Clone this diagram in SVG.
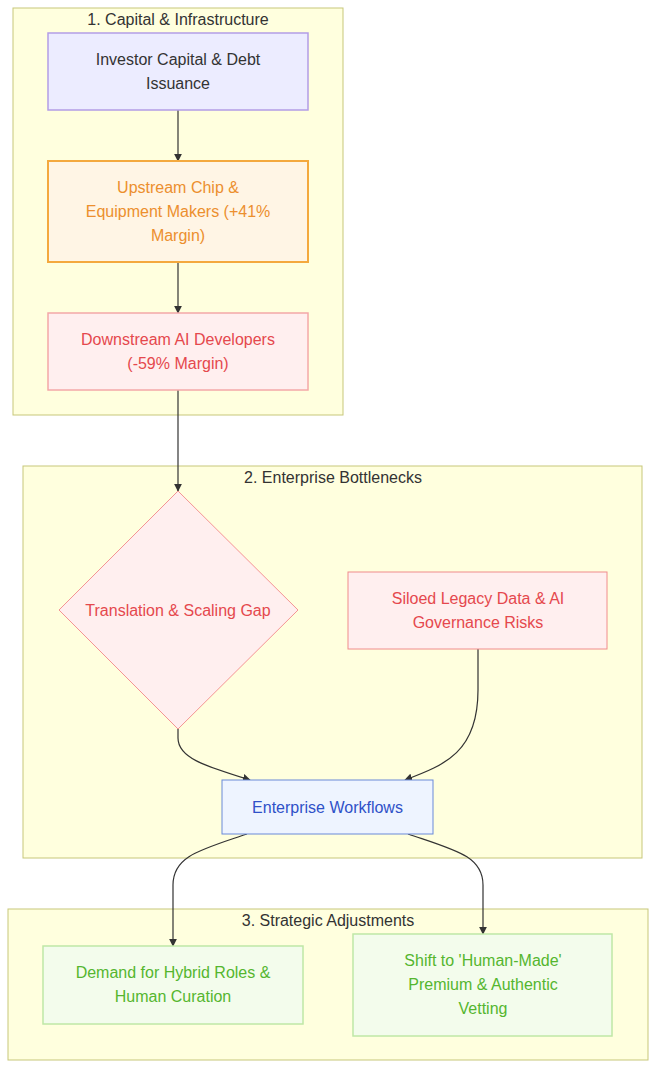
<svg xmlns="http://www.w3.org/2000/svg" width="656" height="1069" viewBox="0 0 656 1069">
<style>
text{font-family:"Liberation Sans",Arial,sans-serif;font-size:16px;text-anchor:middle;dominant-baseline:central}
.cl{fill:#FFFFDE;stroke:#C7C77A;stroke-width:1}
.ct{fill:#333}
.edge{fill:none;stroke:#333;stroke-width:1.2;marker-end:url(#arr)}
</style>
<defs>
<marker id="arr" viewBox="0 0 10 10" refX="9" refY="5" markerWidth="8" markerHeight="8" markerUnits="userSpaceOnUse" orient="auto">
<path d="M0,0 L10,5 L0,10 z" fill="#333"/>
</marker>
</defs>
<rect width="656" height="1069" fill="#fff"/>
<g id="cluster1"><rect class="cl" x="13" y="8" width="330" height="407"/><text class="ct" x="178" y="19">1. Capital &amp; Infrastructure</text></g>
<g id="cluster2"><rect class="cl" x="23" y="466" width="619" height="392"/><text class="ct" x="333" y="477">2. Enterprise Bottlenecks</text></g>
<g id="cluster3"><rect class="cl" x="8" y="909" width="640" height="151"/><text class="ct" x="328" y="920">3. Strategic Adjustments</text></g>
<g id="edges">
<path class="edge" d="M178,110 L178,161"/>
<path class="edge" d="M178,262 L178,313"/>
<path class="edge" d="M178,390 L178,491"/>
<path class="edge" d="M178,729 L178,738 C178,758 205,766 250,780"/>
<path class="edge" d="M478,649 L478,690 C478,752 445,765 405,780"/>
<path class="edge" d="M247,834 C200,850 173,856 173,885 L173,946"/>
<path class="edge" d="M408,834 C455,850 483,856 483,885 L483,934"/>
</g>
<g id="investor"><rect x="48" y="33" width="260" height="77" fill="#ECECFF" stroke="#B39DE6" stroke-width="1.5"/><text fill="#333" x="178" y="59">Investor Capital &amp; Debt</text><text fill="#333" x="178" y="83">Issuance</text></g>
<g id="upstream"><rect x="48" y="161" width="260" height="101" fill="#FFF5E5" stroke="#F4A93E" stroke-width="2"/><text fill="#EC8F2E" x="178" y="187">Upstream Chip &amp;</text><text fill="#EC8F2E" x="178" y="211">Equipment Makers (+41%</text><text fill="#EC8F2E" x="178" y="235">Margin)</text></g>
<g id="downstream"><rect x="48" y="313" width="260" height="77" fill="#FFEFEF" stroke="#F4A8A8" stroke-width="1.5"/><text fill="#E5484D" x="178" y="339">Downstream AI Developers</text><text fill="#E5484D" x="178" y="363">(-59% Margin)</text></g>
<g id="gap"><polygon points="178,491 298,610 178,729 59,610" fill="#FFEFEF" stroke="#F49494" stroke-width="1"/><text fill="#E5484D" x="178" y="610">Translation &amp; Scaling Gap</text></g>
<g id="siloed"><rect x="348" y="572" width="259" height="77" fill="#FFEFEF" stroke="#F08C8C" stroke-width="1"/><text fill="#E5484D" x="478" y="598">Siloed Legacy Data &amp; AI</text><text fill="#E5484D" x="478" y="622">Governance Risks</text></g>
<g id="workflows"><rect x="222" y="780" width="211" height="54" fill="#EEF4FF" stroke="#6A8AD8" stroke-width="1"/><text fill="#2F51C8" x="327.5" y="807">Enterprise Workflows</text></g>
<g id="demand"><rect x="43" y="946" width="260" height="78" fill="#F3FCEC" stroke="#BFE8A6" stroke-width="1.5"/><text fill="#55B62F" x="173" y="972">Demand for Hybrid Roles &amp;</text><text fill="#55B62F" x="173" y="996">Human Curation</text></g>
<g id="shift"><rect x="353" y="934" width="259" height="102" fill="#F3FCEC" stroke="#BFE8A6" stroke-width="1.5"/><text fill="#55B62F" x="483" y="960">Shift to 'Human-Made'</text><text fill="#55B62F" x="483" y="984">Premium &amp; Authentic</text><text fill="#55B62F" x="483" y="1008">Vetting</text></g>
</svg>
